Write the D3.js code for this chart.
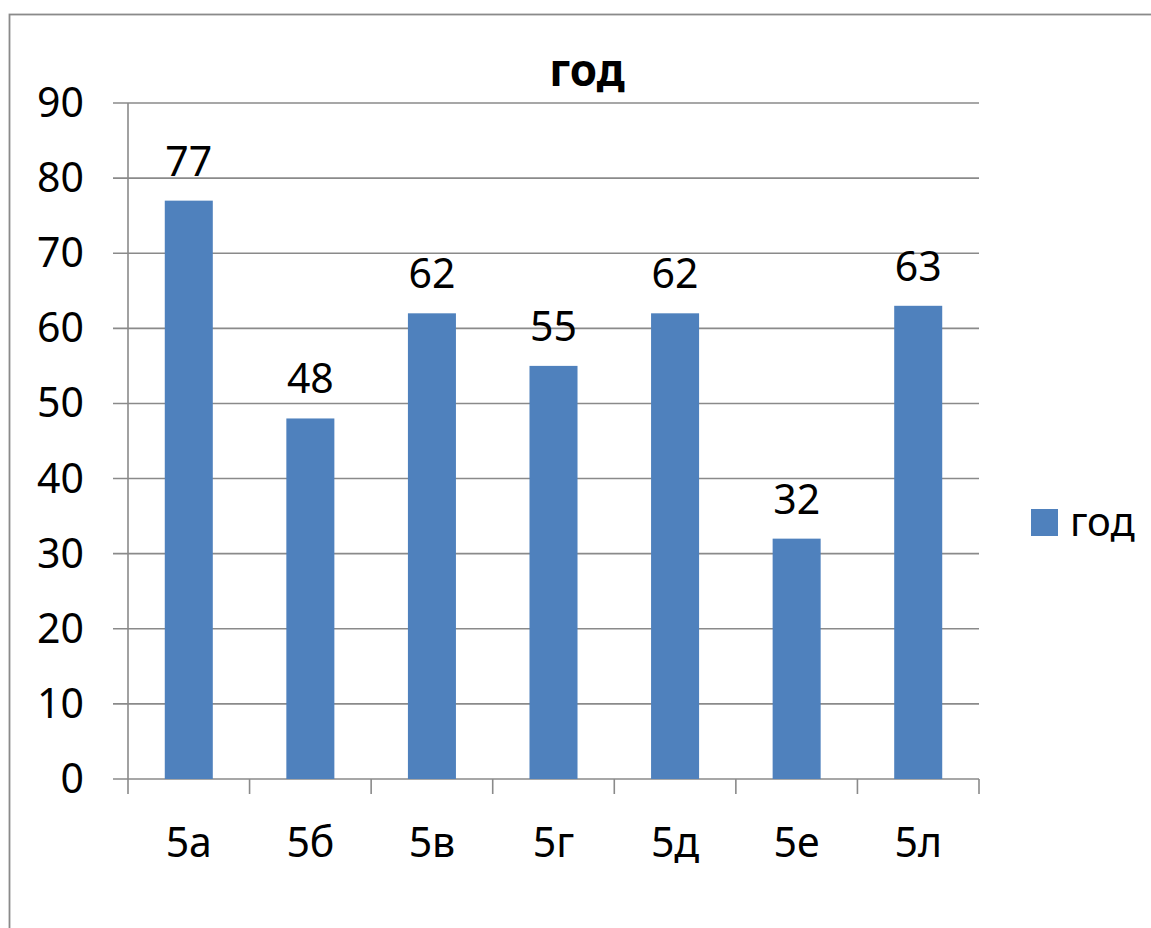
<!DOCTYPE html>
<html>
<head>
<meta charset="utf-8">
<script src="https://cdn.jsdelivr.net/npm/d3@7"></script>
<style>
  html, body { margin: 0; padding: 0; background: #fff; }
  svg { display: block; }
  text { font-family: "Noto Sans", "Open Sans", sans-serif; fill: #000; }
</style>
</head>
<body>
<svg id="chart" width="1151" height="928"></svg>
<script>
const categories = ["5а", "5б", "5в", "5г", "5д", "5е", "5л"];
const values = [77, 48, 62, 55, 62, 32, 63];
const yTicks = [0, 10, 20, 30, 40, 50, 60, 70, 80, 90];
const seriesName = "год";
const title = "год";

const svg = d3.select("#chart");
const W = 1151, H = 928;
const plotLeft = 128, plotRight = 979, plotTop = 103, plotBottom = 779;
const gridColor = "#8a8a8a";
const barColor = "#4f81bd";

// outer border
svg.append("rect")
  .attr("x", 9.5).attr("y", 14.5)
  .attr("width", W + 20).attr("height", H + 20)
  .attr("fill", "none").attr("stroke", "#8a8a8a").attr("stroke-width", 1.8);

const x = d3.scaleBand().domain(categories).range([plotLeft, plotRight])
  .paddingInner(0.605).paddingOuter(0.3025);
const y = d3.scaleLinear().domain([0, 90]).range([plotBottom, plotTop]);

// gridlines + y ticks
svg.append("g").selectAll("line").data(yTicks).join("line")
  .attr("x1", plotLeft - 15).attr("x2", plotRight)
  .attr("y1", d => y(d)).attr("y2", d => y(d))
  .attr("stroke", gridColor).attr("stroke-width", 1.6);

// y axis line
svg.append("line")
  .attr("x1", plotLeft).attr("x2", plotLeft).attr("y1", plotTop).attr("y2", plotBottom)
  .attr("stroke", gridColor).attr("stroke-width", 1.6);

// y tick labels
svg.append("g").selectAll("text").data(yTicks).join("text")
  .attr("x", 84).attr("y", d => y(d) + 14)
  .attr("text-anchor", "end")
  .attr("font-size", 41)
  .text(d => d);

// x tick marks at category boundaries
const step = x.step();
const boundaries = d3.range(categories.length + 1).map(i => plotLeft + i * step);
svg.append("g").selectAll("line").data(boundaries).join("line")
  .attr("x1", d => d).attr("x2", d => d)
  .attr("y1", plotBottom).attr("y2", plotBottom + 15)
  .attr("stroke", gridColor).attr("stroke-width", 1.6);

// bars
svg.append("g").selectAll("rect").data(values).join("rect")
  .attr("x", (d, i) => x(categories[i]))
  .attr("width", x.bandwidth())
  .attr("y", d => y(d))
  .attr("height", d => plotBottom - y(d))
  .attr("fill", barColor);

// value labels
svg.append("g").selectAll("text").data(values).join("text")
  .attr("x", (d, i) => x(categories[i]) + x.bandwidth() / 2)
  .attr("y", d => y(d) - 25)
  .attr("text-anchor", "middle")
  .attr("font-size", 41)
  .text(d => d);

// category labels
svg.append("g").selectAll("text").data(categories).join("text")
  .attr("x", d => x(d) + x.bandwidth() / 2)
  .attr("y", 857)
  .attr("text-anchor", "middle")
  .attr("font-size", 41)
  .text(d => d);

// title
svg.append("text")
  .attr("x", 587).attr("y", 86)
  .attr("text-anchor", "middle")
  .attr("font-size", 44).attr("font-weight", "bold")
  .text(title);

// legend
svg.append("rect")
  .attr("x", 1031).attr("y", 509).attr("width", 27).attr("height", 27)
  .attr("fill", barColor);
svg.append("text")
  .attr("x", 1070).attr("y", 536)
  .attr("font-size", 40)
  .text(seriesName);
</script>
</body>
</html>
